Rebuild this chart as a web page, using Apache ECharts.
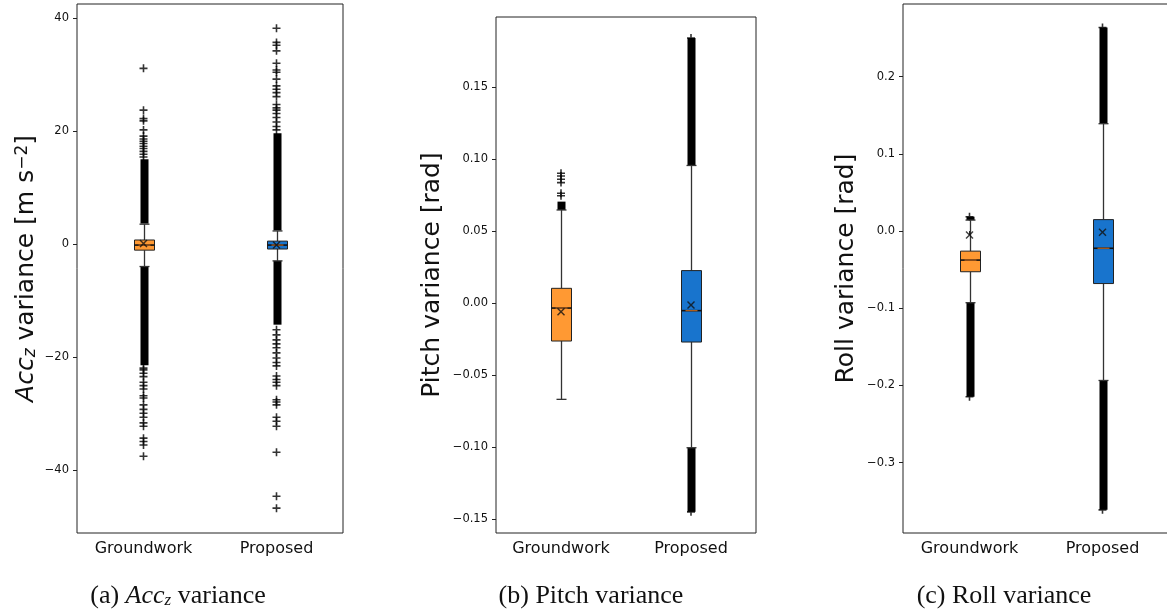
<!DOCTYPE html>
<html>
<head>
<meta charset="utf-8">
<script src="https://cdn.jsdelivr.net/npm/echarts@6/dist/echarts.min.js"></script>
<style>html,body{margin:0;padding:0;background:#fff}#chart{width:1167px;height:616px}</style>
</head>
<body>
<div id="chart"></div>
<script>
var categories = ['Groundwork', 'Proposed'];
var boxColors = ['#FF9933', '#1874CD'];

// each box: [category, whiskerLow, Q1, median, Q3, whiskerHigh]
// (a) Acc_z variance
var accBoxes = [[0, -4.0, -1.1, -0.2, 0.7, 3.5], [1, -3.0, -0.9, -0.2, 0.5, 2.3]];
var accMeans = [[0, 0.1], [1, -0.2]];
// dense flier runs: [category, low, high]
var accBands = [[0, 3.6, 15.0], [0, -21.5, -4.0], [1, 2.4, 19.6], [1, -14.3, -3.0]];
var accFliersGround = [31.1, 23.7, 22.2, 21.8, 20.2, 19.1, 18.6, 18.2, 17.8, 17.3, 16.9, 16.4, 15.9, 15.4,
  -22.0, -22.3, -22.9, -23.5, -24.5, -25.1, -25.7, -26.9, -27.3, -28.5, -29.3, -30.0, -30.7, -31.7, -32.3,
  -34.4, -35.0, -35.6, -37.6];
var accFliersProp = [38.2, 35.7, 35.2, 34.2, 32.0, 30.8, 30.4, 29.2, 28.0, 27.4, 26.8, 26.1, 24.7,
  24.1, 23.7, 23.1, 22.4, 21.6, 20.8, 20.2,
  -15.2, -16.1, -17.0, -17.7, -18.4, -19.3, -20.2, -21.0, -21.6, -23.4, -24.0, -24.5, -25.1,
  -27.6, -28.0, -28.5, -30.7, -31.4, -32.3, -36.9, -44.7, -46.8];
var accTicks = [-40, -20, 0, 20, 40];

// (b) Pitch variance
var pitchBoxes = [[0, -0.0669, -0.0264, -0.0035, 0.0102, 0.0646], [1, -0.1005, -0.0271, -0.0053, 0.0225, 0.0955]];
var pitchMeans = [[0, -0.006], [1, -0.0014]];
var pitchBands = [[0, 0.0646, 0.0704], [1, 0.0955, 0.184], [1, -0.145, -0.1005]];
var pitchFliersGround = [0.0901, 0.0882, 0.0859, 0.0836, 0.0762, 0.0745];
var pitchFliersProp = [0.184, -0.145];
var pitchTicks = [-0.15, -0.10, -0.05, 0.00, 0.05, 0.10, 0.15];

// (c) Roll variance
var rollBoxes = [[0, -0.0928, -0.0527, -0.0376, -0.026, 0.0142], [1, -0.1935, -0.068, -0.0223, 0.0148, 0.139]];
var rollMeans = [[0, -0.0052], [1, -0.0015]];
var rollBands = [[0, 0.0142, 0.0186], [0, -0.2146, -0.0928], [1, 0.139, 0.2636], [1, -0.361, -0.1935]];
var rollFliersGround = [0.0186, -0.2146];
var rollFliersProp = [0.2636, -0.361];
var rollTicks = [-0.3, -0.2, -0.1, 0.0, 0.1, 0.2];

var FONT = 'DejaVu Sans';
var SERIF = 'Liberation Serif';
var PLUS = 'path://M0,3.2H8V4.8H0ZM3.2,0H4.8V8H3.2Z';
var CROSS = 'path://M0,1L1,0L4,3L7,0L8,1L5,4L8,7L7,8L4,5L1,8L0,7L3,4Z';

var chart = echarts.init(document.getElementById('chart'), null, {renderer: 'canvas'});

function renderBox(params, api) {
  var c = api.value(0);
  var lo = api.coord([c, api.value(1)]);
  var q1 = api.coord([c, api.value(2)]);
  var med = api.coord([c, api.value(3)]);
  var q3 = api.coord([c, api.value(4)]);
  var hi = api.coord([c, api.value(5)]);
  var x = Math.round(lo[0]) + 0.5;
  var w = {stroke: '#333', lineWidth: 1.3};
  return {type: 'group', children: [
    {type: 'line', shape: {x1: x, y1: lo[1], x2: x, y2: q1[1]}, style: w},
    {type: 'line', shape: {x1: x, y1: q3[1], x2: x, y2: hi[1]}, style: w},
    {type: 'line', shape: {x1: x - 5, y1: lo[1], x2: x + 5, y2: lo[1]}, style: w},
    {type: 'line', shape: {x1: x - 5, y1: hi[1], x2: x + 5, y2: hi[1]}, style: w},
    {type: 'rect', shape: {x: x - 10, y: q3[1], width: 20, height: q1[1] - q3[1]},
      style: {fill: boxColors[c], stroke: '#222', lineWidth: 1}},
    {type: 'line', shape: {x1: x - 10, y1: med[1], x2: x + 10, y2: med[1]}, style: {stroke: '#111', lineWidth: 1.6}},
    {type: 'line', shape: {x1: x - 6, y1: med[1], x2: x + 6, y2: med[1]}, style: {stroke: '#b8621c', lineWidth: 1.2}}
  ]};
}

function renderBand(params, api) {
  var c = api.value(0);
  var top = api.coord([c, api.value(2)]);
  var bot = api.coord([c, api.value(1)]);
  return {type: 'rect', shape: {x: Math.round(top[0]) - 3.5, y: top[1], width: 8, height: bot[1] - top[1]},
    style: {fill: '#000'}};
}

function fmt(dec) {
  return function (v) { return v.toFixed(dec).replace('-', '\u2212'); };
}

function panel(i, boxes, means, bands, fliersG, fliersP) {
  var fl = fliersG.map(function (v) { return [0, v]; }).concat(fliersP.map(function (v) { return [1, v]; }));
  return [
    {type: 'custom', xAxisIndex: i, yAxisIndex: i, renderItem: renderBand, data: bands,
      encode: {x: 0, y: [1, 2]}, silent: true, z: 2},
    {type: 'scatter', xAxisIndex: i, yAxisIndex: i, data: fl, symbol: PLUS, symbolSize: 8,
      itemStyle: {color: '#000'}, silent: true, z: 3},
    {type: 'custom', xAxisIndex: i, yAxisIndex: i, renderItem: renderBox, data: boxes,
      encode: {x: 0, y: [1, 2, 3, 4, 5]}, silent: true, z: 4},
    {type: 'scatter', xAxisIndex: i, yAxisIndex: i, data: means, symbol: CROSS, symbolSize: 8,
      itemStyle: {color: '#111'}, silent: true, z: 5}
  ];
}

function xAxis(i) {
  return {type: 'category', gridIndex: i, data: categories,
    axisLine: {show: false},
    axisTick: {show: true, alignWithLabel: true, length: 4, lineStyle: {color: '#222'}},
    axisLabel: {fontFamily: FONT, fontSize: 16, color: '#111', margin: 8},
    splitLine: {show: false}};
}

function yAxis(i, min, max, ticks, dec, name, gap, rich) {
  return {type: 'value', gridIndex: i, min: min, max: max,
    name: name, nameLocation: 'middle', nameGap: gap,
    nameTextStyle: {fontFamily: FONT, fontSize: 25, color: '#111', rich: rich || {}},
    axisLine: {show: false},
    axisTick: {show: true, length: 4, customValues: ticks, lineStyle: {color: '#222'}},
    axisLabel: {fontFamily: FONT, fontSize: 11.5, color: '#111', margin: 8, customValues: ticks, formatter: fmt(dec)},
    splitLine: {show: false}};
}

var gridBase = {show: true, borderColor: '#222', borderWidth: 1, backgroundColor: 'transparent',
  containLabel: false, outerBoundsMode: 'none'};

var option = {
  animation: false,
  backgroundColor: '#fff',
  grid: [
    Object.assign({left: 77, width: 266, top: 4, bottom: 83}, gridBase),
    Object.assign({left: 496, width: 260, top: 17, bottom: 83}, gridBase),
    Object.assign({left: 903, width: 266, top: 4, bottom: 83}, gridBase)
  ],
  xAxis: [xAxis(0), xAxis(1), xAxis(2)],
  yAxis: [
    yAxis(0, -51.2, 42.5, accTicks, 0, '{it|Acc}{sub|z} variance [m s{sup|\u22122}]', 38, {
      it: {fontFamily: FONT, fontSize: 25, fontStyle: 'italic', color: '#111'},
      sub: {fontFamily: FONT, fontSize: 17, fontStyle: 'italic', color: '#111', verticalAlign: 'bottom', padding: [8, 0, 0, 0]},
      sup: {fontFamily: FONT, fontSize: 17, color: '#111', verticalAlign: 'top', padding: [0, 0, 8, 0]}
    }),
    yAxis(1, -0.1597, 0.1986, pitchTicks, 2, 'Pitch variance [rad]', 51),
    yAxis(2, -0.391, 0.294, rollTicks, 1, 'Roll variance [rad]', 44)
  ],
  graphic: [
    {type: 'text', x: 178, y: 596, style: {text: '(a) {it|Acc}{sub|z} variance', align: 'center', verticalAlign: 'middle',
      font: '26px "Liberation Serif"', fill: '#111',
      rich: {it: {fontFamily: SERIF, fontSize: 26, fontStyle: 'italic', fill: '#111'},
        sub: {fontFamily: SERIF, fontSize: 17, fontStyle: 'italic', fill: '#111', padding: [10, 0, 0, 0]}}}},
    {type: 'text', x: 591, y: 596, style: {text: '(b) Pitch variance', align: 'center', verticalAlign: 'middle',
      font: '26px "Liberation Serif"', fill: '#111'}},
    {type: 'text', x: 1004, y: 596, style: {text: '(c) Roll variance', align: 'center', verticalAlign: 'middle',
      font: '26px "Liberation Serif"', fill: '#111'}}
  ],
  series: [].concat(
    panel(0, accBoxes, accMeans, accBands, accFliersGround, accFliersProp),
    panel(1, pitchBoxes, pitchMeans, pitchBands, pitchFliersGround, pitchFliersProp),
    panel(2, rollBoxes, rollMeans, rollBands, rollFliersGround, rollFliersProp)
  )
};

chart.setOption(option);
</script>
</body>
</html>
